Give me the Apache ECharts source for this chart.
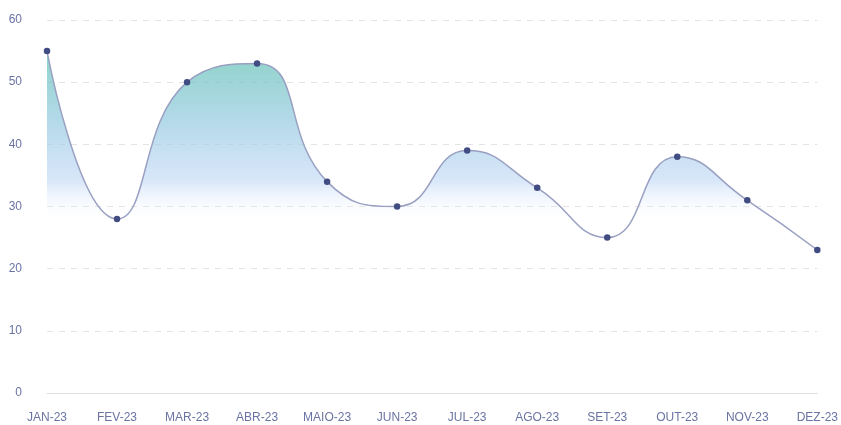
<!DOCTYPE html>
<html><head><meta charset="utf-8">
<script src="https://cdn.jsdelivr.net/npm/echarts@6/dist/echarts.min.js"></script>
<style>html,body{margin:0;padding:0;background:#fff}#c{width:841px;height:425px}</style>
</head><body><div id="c"></div>
<script>
var categories = ['JAN-23','FEV-23','MAR-23','ABR-23','MAIO-23','JUN-23','JUL-23','AGO-23','SET-23','OUT-23','NOV-23','DEZ-23'];
var values = [55, 28, 50, 53, 34, 30, 39, 33, 25, 38, 31, 23];
var yTicks = [0, 10, 20, 30, 40, 50, 60];

var chart = echarts.init(document.getElementById('c'));
chart.setOption({
  animation: false,
  grid: {left: 47, right: 23, top: 20, bottom: 32},
  xAxis: {
    type: 'category', data: categories, boundaryGap: false,
    axisLine: {show: true, lineStyle: {color: '#e0e0e0', width: 1}},
    axisTick: {show: false},
    axisLabel: {color: '#6a73a3', fontSize: 12, fontFamily: 'Liberation Sans', margin: 19, interval: 0},
    splitLine: {show: false}
  },
  yAxis: {
    type: 'value', min: yTicks[0], max: yTicks[yTicks.length-1], interval: 10,
    axisLine: {show: false}, axisTick: {show: false},
    axisLabel: {color: '#6a73a3', fontSize: 12, fontFamily: 'Liberation Sans', margin: 25},
    splitLine: {show: true, lineStyle: {color: '#e3e3e3', type: [6, 6], width: 1}}
  },
  series: [{
    type: 'line', data: values, smooth: 0.5,
    symbol: 'circle', symbolSize: 6.5,
    itemStyle: {color: '#414c82'},
    lineStyle: {color: '#9aa0c2', width: 1.5},
    areaStyle: {
      color: new echarts.graphic.LinearGradient(0, 0, 0, 1, [
        {offset: 0, color: 'rgba(92,192,176,1)'},
        {offset: 0.2, color: 'rgba(140,198,222,0.95)'},
        {offset: 0.38, color: 'rgba(190,214,246,0.85)'},
        {offset: 0.5, color: 'rgba(255,255,255,0)'},
        {offset: 1, color: 'rgba(255,255,255,0)'}
      ])
    }
  }]
});
</script></body></html>
